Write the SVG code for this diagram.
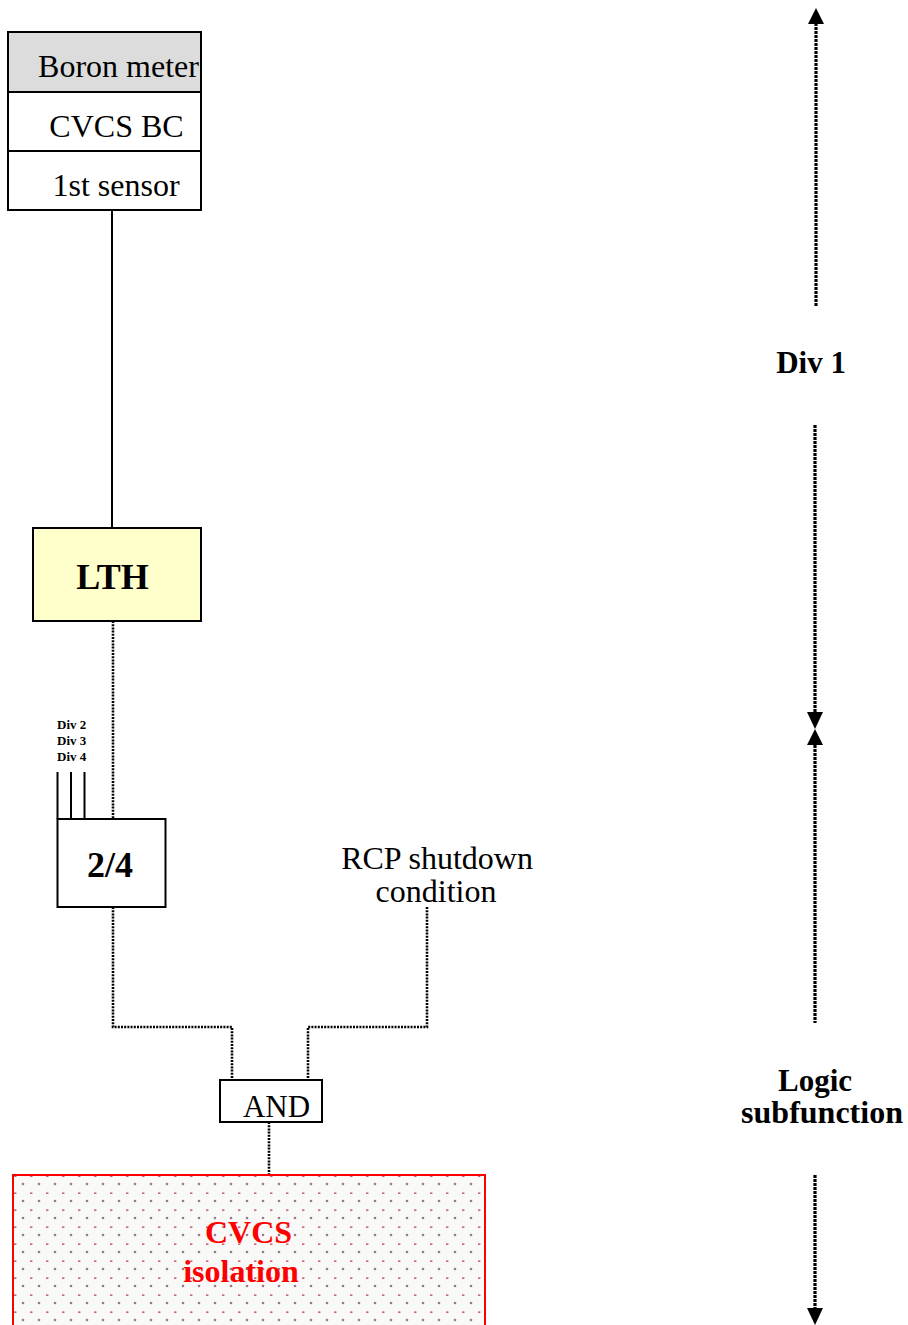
<svg xmlns="http://www.w3.org/2000/svg" width="908" height="1325" viewBox="0 0 908 1325">
<style>
text{font-family:"Liberation Serif","Times New Roman",serif;fill:#000}
.r{font-size:32px}
.b{font-weight:bold}
.box{stroke:#000;stroke-width:2;fill:#fff}
.dot{stroke:#000;stroke-width:2.6;stroke-dasharray:2 1.2;fill:none}
.rdot{stroke:#000;stroke-width:3.2;stroke-dasharray:3 1;fill:none}
.sol{stroke:#000;stroke-width:2;fill:none}
</style>
<defs>
<pattern id="pt" patternUnits="userSpaceOnUse" x="13" y="1175" width="16" height="17">
<rect width="16" height="17" fill="#f9f9f7"/>
<circle cx="10" cy="9" r="1.3" fill="#9c7888"/>
<rect x="1" y="0.5" width="2.4" height="1.3" fill="#c8404e"/>
</pattern>
</defs>
<g id="connectors">
<line class="sol" x1="112" y1="210" x2="112" y2="528"/>
<line class="dot" x1="113" y1="621" x2="113" y2="819"/>
<line class="sol" x1="57.5" y1="772" x2="57.5" y2="819"/>
<line class="sol" x1="71" y1="772" x2="71" y2="819"/>
<line class="sol" x1="84.5" y1="772" x2="84.5" y2="819"/>
<polyline class="dot" points="113,907 113,1027 232,1027 232,1080"/>
<polyline class="dot" points="427,907 427,1027 308,1027 308,1080"/>
<line class="dot" x1="269" y1="1122" x2="269" y2="1175"/>
</g>
<g id="boron-meter">
<rect x="8" y="32" width="193" height="60" fill="#dcdcdc" stroke="#000" stroke-width="2"/>
<rect x="8" y="92" width="193" height="59" class="box"/>
<rect x="8" y="151" width="193" height="59" class="box"/>
<text class="r" x="118.5" y="77" text-anchor="middle">Boron meter</text>
<text class="r" x="116.5" y="137" text-anchor="middle">CVCS BC</text>
<text class="r" x="116" y="196" text-anchor="middle">1st sensor</text>
</g>
<g id="lth">
<rect x="33" y="528" width="168" height="93" fill="#ffffcc" stroke="#000" stroke-width="2"/>
<text class="b" font-size="36" x="112.5" y="589" text-anchor="middle">LTH</text>
</g>
<g id="div-labels">
<text class="b" font-size="13" x="57" y="729">Div 2</text>
<text class="b" font-size="13" x="57" y="745">Div 3</text>
<text class="b" font-size="13" x="57" y="761">Div 4</text>
</g>
<g id="vote">
<rect x="57.5" y="819" width="108" height="88" class="box"/>
<text class="b" font-size="36" x="110" y="877" text-anchor="middle">2/4</text>
</g>
<g id="rcp">
<text class="r" x="437" y="869" text-anchor="middle">RCP shutdown</text>
<text class="r" x="436" y="902" text-anchor="middle">condition</text>
</g>
<g id="and">
<rect x="220" y="1080" width="102" height="42" class="box"/>
<text font-size="31" x="276.5" y="1117" text-anchor="middle">AND</text>
</g>
<g id="cvcs-isolation">
<rect x="13" y="1175" width="472" height="160" fill="url(#pt)" stroke="#ff0000" stroke-width="2"/>
<text class="b" font-size="32" x="248.5" y="1243" text-anchor="middle" style="fill:#ff0000">CVCS</text>
<text class="b" font-size="32" x="241" y="1282" text-anchor="middle" style="fill:#ff0000">isolation</text>
</g>
<g id="scale">
<line class="rdot" x1="816" y1="23" x2="816" y2="307"/>
<polygon points="816,8 808,24 824,24" fill="#000"/>
<text class="b" font-size="31" x="811" y="373" text-anchor="middle">Div 1</text>
<line class="rdot" x1="815" y1="425" x2="815" y2="713"/>
<polygon points="807,712 823,712 815,729" fill="#000"/>
<polygon points="815,729 807,745 823,745" fill="#000"/>
<line class="rdot" x1="815" y1="745" x2="815" y2="1023"/>
<text class="b" font-size="31" x="815" y="1091" text-anchor="middle">Logic</text>
<text class="b" font-size="32" x="822" y="1123" text-anchor="middle">subfunction</text>
<line class="rdot" x1="815" y1="1175" x2="815" y2="1309"/>
<polygon points="807,1308 823,1308 815,1325" fill="#000"/>
</g>
</svg>
